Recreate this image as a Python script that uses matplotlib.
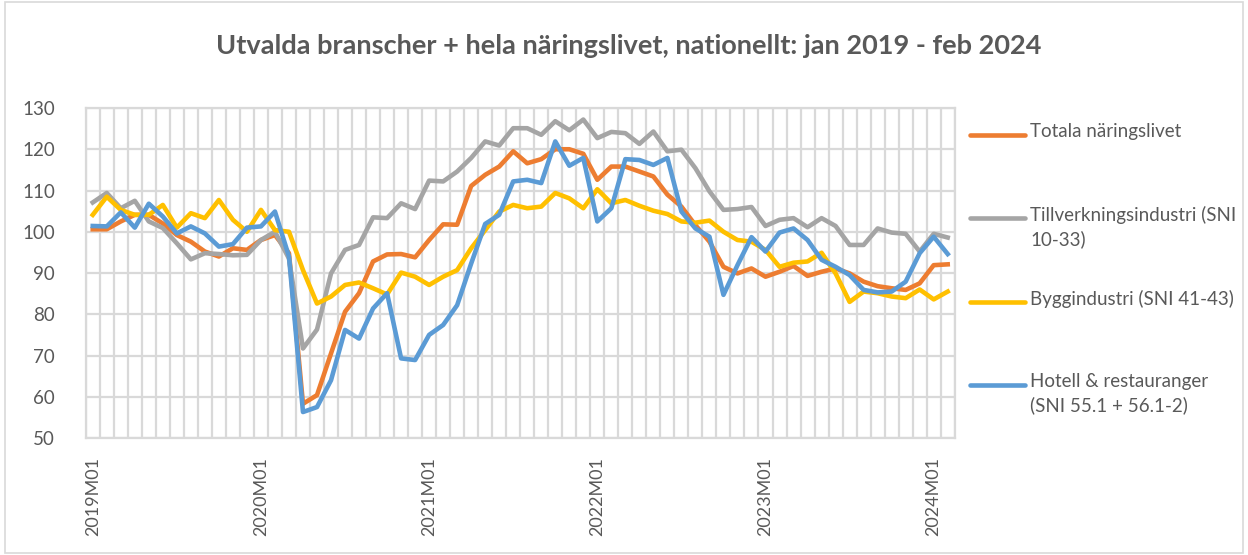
import matplotlib.pyplot as plt
from matplotlib.lines import Line2D
from matplotlib.patches import Rectangle

plt.rcParams['font.family'] = ['Lato', 'DejaVu Sans']

# Manader jan 2019 - feb 2024
months = [f"{y}M{m:02d}" for y in range(2019, 2025) for m in range(1, 13)][:62]

totala = [100.6, 100.6, 102.5, 104.1, 104.1, 102.0, 99.2, 97.6, 95.2, 94.0, 96.0, 95.6,
          98.0, 99.2, 94.8, 58.3, 60.4, 70.5, 80.6, 85.1, 92.8, 94.5, 94.6, 93.8,
          98.0, 101.8, 101.7, 111.1, 113.8, 115.8, 119.5, 116.6, 117.6, 120.0, 120.0, 118.9,
          112.6, 115.8, 115.8, 114.6, 113.4, 109.0, 106.1, 101.6, 97.6, 91.5, 89.9, 91.1,
          89.1, 90.3, 91.7, 89.3, 90.3, 91.1, 89.9, 87.9, 86.8, 86.3, 85.9, 87.5,
          91.9, 92.1]

tillverkning = [107.1, 109.4, 105.7, 107.5, 102.5, 100.9, 97.2, 93.3, 94.8, 94.6, 94.3, 94.4,
                98.0, 100.0, 93.5, 71.7, 76.3, 89.9, 95.6, 96.8, 103.5, 103.3, 106.9, 105.5,
                112.4, 112.2, 114.6, 117.9, 121.9, 120.9, 125.1, 125.1, 123.5, 126.8, 124.6, 127.2,
                122.7, 124.2, 123.9, 121.3, 124.3, 119.5, 119.9, 115.4, 109.8, 105.3, 105.5, 106.0,
                101.4, 102.9, 103.3, 101.1, 103.3, 101.4, 96.8, 96.8, 100.8, 99.8, 99.5, 95.2,
                99.5, 98.6]

bygg = [104.1, 108.5, 105.3, 104.1, 104.1, 106.5, 101.0, 104.5, 103.3, 107.7, 102.9, 100.0,
        105.3, 100.4, 100.0, 90.7, 82.6, 84.3, 87.1, 87.7, 86.3, 84.8, 90.1, 89.1,
        87.1, 89.1, 90.7, 96.0, 100.4, 104.9, 106.5, 105.7, 106.1, 109.4, 108.1, 105.7,
        110.3, 106.9, 107.7, 106.3, 105.1, 104.3, 102.5, 102.2, 102.7, 100.0, 98.0, 97.6,
        95.6, 91.5, 92.5, 92.8, 94.9, 89.9, 83.0, 85.5, 85.1, 84.3, 83.9, 86.0,
        83.6, 85.5]

hotell = [101.4, 101.3, 104.7, 101.0, 106.8, 103.7, 99.6, 101.3, 99.6, 96.4, 97.0, 101.0,
          101.3, 104.9, 94.0, 56.3, 57.5, 64.0, 76.2, 74.1, 81.4, 85.1, 69.3, 68.9,
          75.0, 77.4, 82.2, 92.3, 101.9, 104.1, 112.2, 112.6, 111.8, 121.9, 116.0, 117.9,
          102.5, 105.7, 117.6, 117.4, 116.2, 117.9, 104.9, 100.8, 98.8, 84.7, 91.9, 98.7,
          95.2, 99.8, 100.8, 98.0, 93.2, 91.5, 89.5, 85.9, 85.3, 85.5, 87.9, 94.8,
          98.8, 94.6]

series = [
    ("Totala näringslivet", totala, "#ED7D31"),
    ("Tillverkningsindustri (SNI\n10-33)", tillverkning, "#A5A5A5"),
    ("Byggindustri (SNI 41-43)", bygg, "#FFC000"),
    ("Hotell & restauranger\n(SNI 55.1 + 56.1-2)", hotell, "#5B9BD5"),
]

grid_c = "#D9D9D9"
txt_c = "#595959"

fig = plt.figure(figsize=(12.48, 5.55), dpi=100)
ax = fig.add_axes([0.0687, 0.2108, 0.6963, 0.5946])

x = list(range(len(months)))
for name, vals, col in series:
    ax.plot(x, vals, color=col, lw=3.3, solid_joinstyle='round', zorder=3)

ax.set_xlim(-0.5, len(months) - 0.5)
ax.set_ylim(50, 130)
ax.set_yticks(range(50, 131, 10))
for v in range(50, 131, 10):
    ax.axhline(v, color=grid_c, lw=1.6, zorder=1)
for b in range(len(months) + 1):
    ax.axvline(b - 0.5, color=grid_c, lw=1.6, zorder=1)

ticks = [i for i in x if months[i].endswith("M01")]
ax.set_xticks(ticks)
ax.set_xticklabels([months[i] for i in ticks], rotation=90, fontsize=13, color=txt_c)
ax.tick_params(axis='y', labelsize=13.5, labelcolor=txt_c, length=0, pad=22)
ax.tick_params(axis='x', length=0, pad=14)
for s in ax.spines.values():
    s.set_color(grid_c)
    s.set_linewidth(1.6)

fig.text(0.504, 0.917, "Utvalda branscher + hela näringslivet, nationellt: jan 2019 - feb 2024",
         ha='center', va='center', fontsize=19.5, fontweight='bold', color=txt_c)

# legend at the right side
leg_y = [135, 218, 302, 385]
for (name, vals, col), py in zip(series, leg_y):
    fy = 1 - py / 555
    fig.add_artist(Line2D([970 / 1248, 1025 / 1248], [fy, fy], color=col, lw=3.3,
                          solid_capstyle='round'))
    fig.text(1030 / 1248, fy + 12 / 555, name, ha='left', va='top', fontsize=13.5,
             color=txt_c, linespacing=1.4)

fig.add_artist(Rectangle((0.004, 0.004), 0.992, 0.992, transform=fig.transFigure,
                         fill=False, edgecolor=grid_c, lw=1.2))

fig.savefig("out.png", dpi=100)
